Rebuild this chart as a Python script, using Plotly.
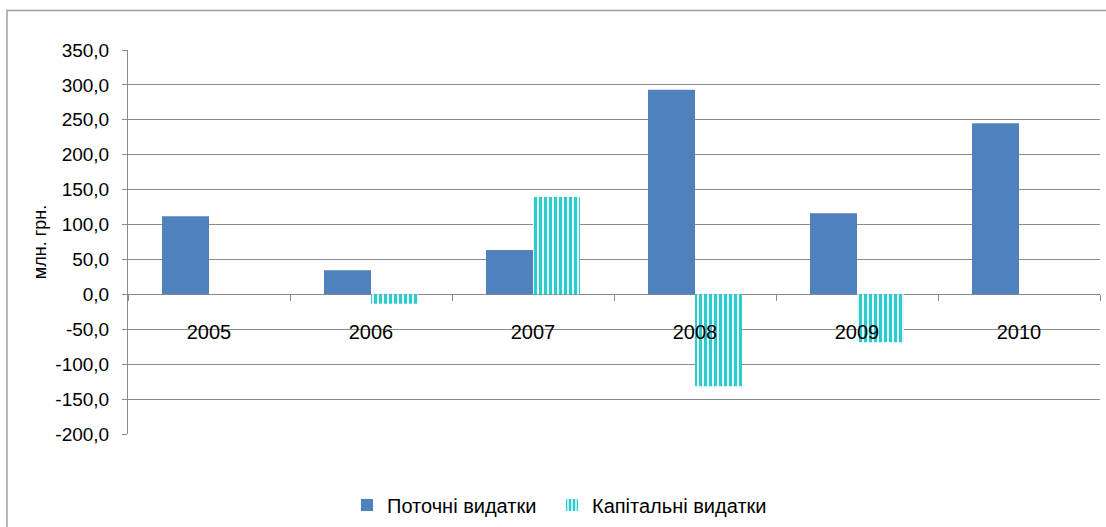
import plotly.graph_objects as go

years = ["2005", "2006", "2007", "2008", "2009", "2010"]
current_exp = [112.0, 34.5, 63.5, 293.0, 116.0, 245.0]
capital_exp = [None, -13.5, 139.5, -131.5, -68.5, None]
y_ticks = [-200, -150, -100, -50, 0, 50, 100, 150, 200, 250, 300, 350]
y_tick_text = [f"{v:.1f}".replace(".", ",") for v in y_ticks]

BLUE = "#4F81BD"
CYAN = "#2ECBCE"
GRID = "#8C8C8C"
FONT = "Liberation Sans"

fig = go.Figure()
fig.add_trace(go.Bar(
    x=years, y=current_exp, name="Поточні видатки", legend="legend",
    marker=dict(color=BLUE, line=dict(width=0)),
))
fig.add_trace(go.Bar(
    x=years, y=capital_exp, name="Капітальні видатки", legend="legend2",
    marker=dict(color="white", line=dict(width=0),
                pattern=dict(shape="|", fgcolor=CYAN, bgcolor="white", fgopacity=1,
                             size=5, solidity=0.65, fillmode="overlay")),
))

legend_common = dict(orientation="h", xanchor="left", y=-0.185, yanchor="middle",
                     font=dict(family=FONT, size=20), itemwidth=30, bgcolor="rgba(0,0,0,0)")

fig.update_layout(
    width=1106, height=527,
    margin=dict(l=128, r=6, t=50, b=93, autoexpand=False),
    paper_bgcolor="white", plot_bgcolor="white",
    separators=", ",
    barmode="group", bargap=0.42, bargroupgap=0,
    font=dict(family=FONT, size=19, color="black"),
    showlegend=True,
    legend=dict(x=(347 - 128) / 972, **legend_common),
    legend2=dict(x=(552 - 128) / 972, **legend_common),
    xaxis=dict(
        type="category", anchor="free", position=200 / 550,
        tickson="boundaries", ticks="outside", ticklen=6, tickcolor=GRID,
        showline=False, showgrid=False, zeroline=False,
        ticklabelstandoff=24,
        tickfont=dict(family=FONT, size=20),
    ),
    yaxis=dict(
        range=[-200, 350], tickvals=y_ticks, ticktext=y_tick_text,
        showgrid=True, gridcolor=GRID, gridwidth=1,
        zeroline=True, zerolinecolor=GRID, zerolinewidth=1,
        showline=True, linecolor=GRID, linewidth=1,
        ticks="outside", ticklen=5, tickcolor=GRID,
        ticklabelstandoff=9,
        tickfont=dict(family=FONT, size=19),
        title=dict(text="млн. грн.", font=dict(family=FONT, size=18), standoff=4),
    ),
    shapes=[dict(type="rect", xref="paper", yref="paper",
                 x0=(7 - 128) / 972, x1=1.02, y0=-0.4, y1=(434 - 11) / 383.5,
                 line=dict(color="#A0A0A0", width=1.5), layer="below")],
)

fig.write_html("out.html", config={"displayModeBar": False},
               post_script="document.body.style.margin='0';document.body.style.overflow='hidden';")
